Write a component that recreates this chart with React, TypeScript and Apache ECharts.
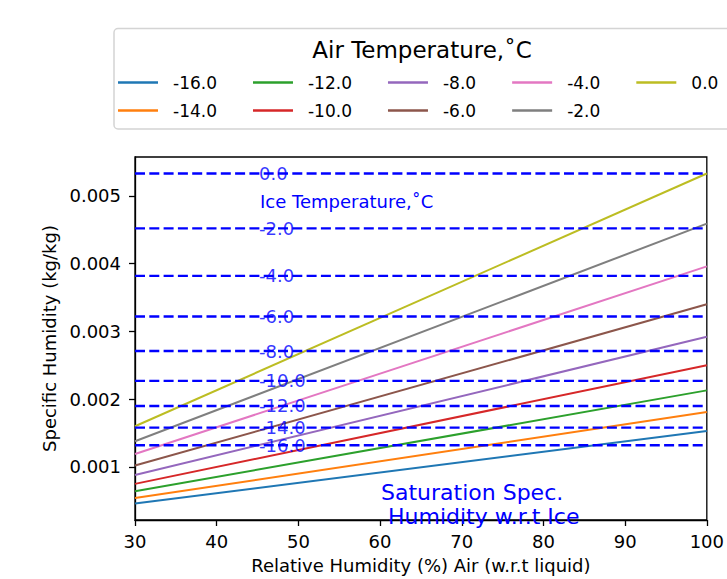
import React, { useEffect, useRef } from "react";
import * as echarts from "echarts";

const FONT = '"DejaVu Sans", "Liberation Sans", sans-serif';

// Air temperature series (°C) and specific humidity at RH = 30 % and 100 %
const airTemps = ["-16.0", "-14.0", "-12.0", "-10.0", "-8.0", "-6.0", "-4.0", "-2.0", "0.0"];
const rhPoints = [30, 100];
const qAtRh30 = [0.00046, 0.00054, 0.00064, 0.00075, 0.00088, 0.00102, 0.00119, 0.00138, 0.0016];
const qAtRh100 = [0.00153, 0.00181, 0.00213, 0.0025, 0.00292, 0.0034, 0.00396, 0.00459, 0.00533];
const lineColors = ["#1f77b4", "#ff7f0e", "#2ca02c", "#d62728", "#9467bd", "#8c564b", "#e377c2", "#7f7f7f", "#bcbd22"];

// Ice temperatures (°C) and saturation specific humidity w.r.t. ice
const iceTemps = ["0.0", "-2.0", "-4.0", "-6.0", "-8.0", "-10.0", "-12.0", "-14.0", "-16.0"];
const qSatIce = [0.00533, 0.00452, 0.00382, 0.00322, 0.00271, 0.00227, 0.0019, 0.00158, 0.00132];
const iceLabelX = 45;

// Axis ticks
const xTicks = [30, 40, 50, 60, 70, 80, 90, 100];
const yTicks = [0.001, 0.002, 0.003, 0.004, 0.005];
const yMin = 0.000217;
const yMax = 0.005574;

export default function App() {
  const ref = useRef<HTMLDivElement>(null);

  useEffect(() => {
    if (!ref.current) return;
    const chart = echarts.init(ref.current, null, { renderer: "svg" });

    const airSeries = airTemps.map((name, i) => ({
      name,
      type: "line",
      symbol: "none",
      data: rhPoints.map((rh, k) => [rh, k === 0 ? qAtRh30[i] : qAtRh100[i]]),
      lineStyle: { width: 2, color: lineColors[i] },
      itemStyle: { color: lineColors[i] },
      z: 2,
    }));

    const iceSeries = iceTemps.map((t, i) => ({
      name: "ice " + t,
      type: "line",
      symbol: "none",
      data: [
        [xTicks[0], qSatIce[i]],
        [xTicks[xTicks.length - 1], qSatIce[i]],
      ],
      lineStyle: { width: 2.4, color: "#0000ff", type: [10, 4.3] },
      itemStyle: { color: "#0000ff" },
      z: 3,
    }));

    const iceLabelSeries = {
      name: "ice labels",
      type: "scatter",
      symbolSize: 1,
      itemStyle: { color: "rgba(0,0,0,0)" },
      data: iceTemps.map((t, i) => [iceLabelX, qSatIce[i], t]),
      label: {
        show: true,
        position: "right",
        distance: 1,
        formatter: (p: any) => p.data[2],
        color: "#0000ff",
        fontSize: 18,
        lineHeight: 16,
        fontFamily: FONT,
      },
      z: 4,
    };

    const row1 = airTemps.filter((_, i) => i % 2 === 0);
    const row2 = airTemps.filter((_, i) => i % 2 === 1);
    const legendBase = {
      orient: "horizontal",
      left: 118,
      width: 800,
      icon: "rect",
      itemWidth: 40,
      itemHeight: 2.6,
      itemGap: 36,
      padding: 0,
      selectedMode: false,
      z: 10,
      textStyle: { fontSize: 17, color: "#000", fontFamily: FONT, padding: [0, 0, 0, 10], lineHeight: 17 },
    };

    const option: any = {
      animation: false,
      backgroundColor: "#fff",
      textStyle: { fontFamily: FONT },
      grid: {
        left: 135,
        right: 17,
        top: 157,
        bottom: 53,
        show: true,
        borderColor: "#000",
        borderWidth: 1.3,
        backgroundColor: "transparent",
      },
      legend: [
        { ...legendBase, top: 74, data: row1 },
        { ...legendBase, top: 102, data: row2 },
      ],
      xAxis: {
        type: "value",
        min: xTicks[0],
        max: xTicks[xTicks.length - 1],
        interval: 10,
        name: "Relative Humidity (%) Air (w.r.t liquid)",
        nameLocation: "middle",
        nameGap: 36,
        nameTextStyle: { fontSize: 18, color: "#000", fontFamily: FONT },
        axisLine: { show: true, lineStyle: { color: "#000", width: 1.3 } },
        axisTick: { show: true, length: 6, lineStyle: { color: "#000", width: 1.3 } },
        axisLabel: { margin: 12, fontSize: 18, color: "#000", fontFamily: FONT },
        splitLine: { show: false },
      },
      yAxis: {
        type: "value",
        min: yMin,
        max: yMax,
        name: "Specific Humidity (kg/kg)",
        nameLocation: "middle",
        nameRotate: 90,
        nameGap: 75,
        nameTextStyle: { fontSize: 18, color: "#000", fontFamily: FONT },
        axisLine: { show: true, lineStyle: { color: "#000", width: 1.3 } },
        axisTick: { show: true, length: 6, lineStyle: { color: "#000", width: 1.3 }, customValues: yTicks },
        axisLabel: {
          margin: 14,
          fontSize: 18,
          color: "#000",
          fontFamily: FONT,
          customValues: yTicks,
          formatter: (v: number) => v.toFixed(3),
        },
        splitLine: { show: false },
      },
      graphic: [
        {
          type: "rect",
          z: 0,
          shape: { x: 114, y: 28.5, width: 700, height: 100.5, r: 4 },
          style: { fill: "rgba(255,255,255,0.8)", stroke: "#d4d4d4", lineWidth: 1.5 },
        },
        {
          type: "text",
          z: 11,
          x: 422,
          y: 50,
          style: {
            text: "Air Temperature,˚C",
            fill: "#000",
            fontSize: 23,
            fontFamily: FONT,
            align: "center",
            verticalAlign: "middle",
          },
        },
        {
          type: "text",
          z: 11,
          x: 260,
          y: 201,
          style: {
            text: "Ice Temperature,˚C",
            fill: "#0000ff",
            fontSize: 18,
            fontFamily: FONT,
            align: "left",
            verticalAlign: "middle",
          },
        },
        {
          type: "text",
          z: 11,
          x: 381,
          y: 492,
          style: {
            text: "Saturation Spec.",
            fill: "#0000ff",
            fontSize: 22,
            fontFamily: FONT,
            align: "left",
            verticalAlign: "middle",
          },
        },
        {
          type: "text",
          z: 11,
          x: 388,
          y: 516.5,
          style: {
            text: "Humidity w.r.t Ice",
            fill: "#0000ff",
            fontSize: 22,
            fontFamily: FONT,
            align: "left",
            verticalAlign: "middle",
          },
        },
      ],
      series: [...airSeries, ...iceSeries, iceLabelSeries],
    };

    chart.setOption(option);
    return () => chart.dispose();
  }, []);

  return (
    <div
      ref={ref}
      style={{ position: "fixed", left: 0, top: 0, width: 727, height: 579, background: "#fff" }}
    />
  );
}
